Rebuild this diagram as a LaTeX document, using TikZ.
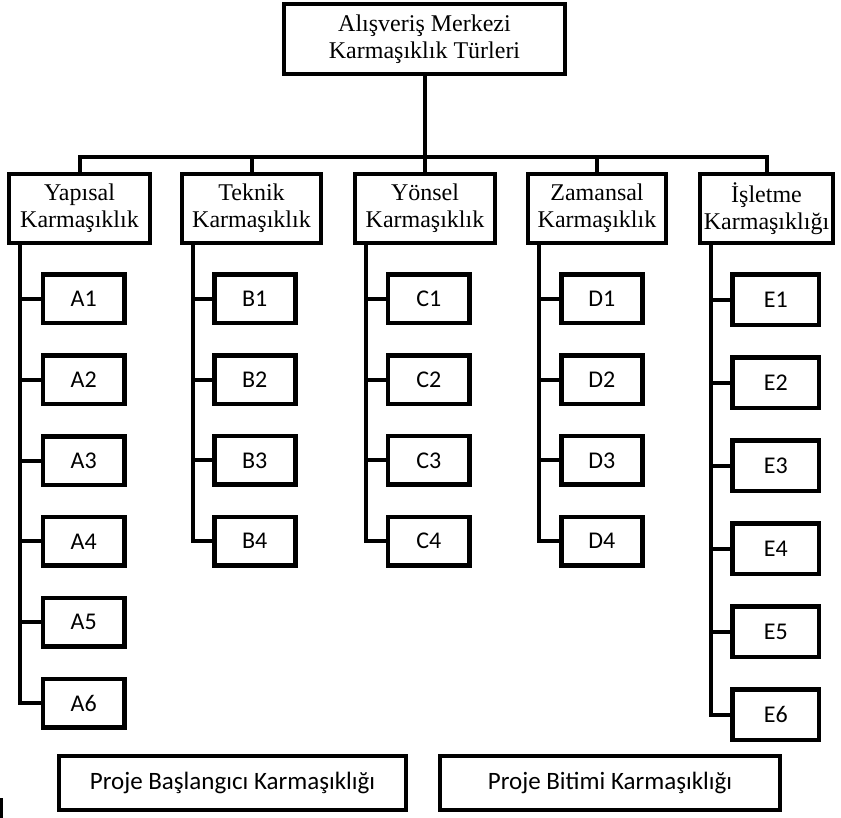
\documentclass[tikz,border=0pt]{standalone}
\usepackage{fontspec}
\setmainfont{Liberation Serif}
\newfontfamily\carlito{Carlito}
\usepackage{tikz}

\begin{document}
\begin{tikzpicture}[x=1pt,y=-1pt,
    box/.style={draw,line width=4.5pt,inner sep=2pt,align=center},
    headbox/.style={box,minimum width=281pt,minimum height=70pt,
        font=\fontsize{24}{27}\selectfont},
    catbox/.style={box,minimum height=69pt,font=\fontsize{24}{27}\selectfont},
    leafbox/.style={box,font=\carlito\fontsize{24}{27}\selectfont},
    endbox/.style={box,minimum height=54pt,font=\carlito\fontsize{25}{28}\selectfont},
    link/.style={line width=4pt}]
    \useasboundingbox (0,0) rectangle (841,818);
    % Root
    \node[headbox] (top) at (424.5,39) {Alışveriş Merkezi\\Karmaşıklık Türleri};
    \coordinate (bar) at (424.5,157);
    \draw[link] (top.south) -- (bar);
    % Categories
    \foreach \n/\x/\w/\t in {A/79.5/141/Yapısal\\Karmaşıklık,B/251.5/139/Teknik\\Karmaşıklık,
                             C/425/140/Yönsel\\Karmaşıklık,D/597/138/Zamansal\\Karmaşıklık,
                             E/766.5/133/İşletme\\Karmaşıklığı} {
        \node[catbox,minimum width=\w pt] (\n) at (\x,208.5) {\t};
        \draw[link] (\n.north) |- (bar);
        \coordinate (s\n) at ([xshift=13pt]\n.south west);
    }
    % Leaves
    \foreach \n/\k/\y/\d/\w/\h/\dx in {A/6/299/80.8/81.5/48.5/64,B/4/299/80.7/81/48.5/62,
                                       C/4/299/80.7/81.5/48.5/63,D/4/299/80.7/81/48.5/63,
                                       E/6/300/82.9/86.5/50.5/65} {
        \foreach \i in {1,...,\k} {
            \pgfmathsetmacro\yy{\y+\d*(\i-1)}
            \path (s\n |- 0,\yy) ++(\dx,0)
                node[leafbox,minimum width=\w pt,minimum height=\h pt] (\n\i) {\n\i};
            \draw[link] (s\n) |- (\n\i.west);
        }
    }
    % Bottom
    \node[endbox,minimum width=347pt] (start) at (232.5,783) {Proje Başlangıcı Karmaşıklığı};
    \node[endbox,minimum width=340pt] (finish) at (610,783) {Proje Bitimi Karmaşıklığı};
    \draw[line width=3pt] (1.5,798) -- (1.5,818);
\end{tikzpicture}
\end{document}
